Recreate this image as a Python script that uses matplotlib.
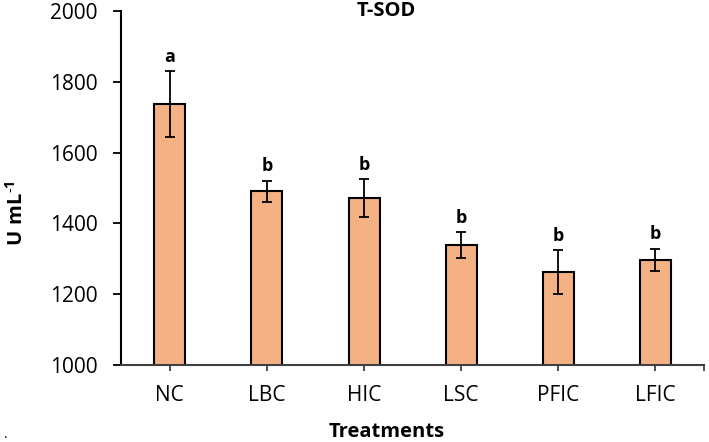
import matplotlib
matplotlib.use("Agg")
import matplotlib.pyplot as plt

plt.rcParams['font.family'] = ['Open Sans', 'DejaVu Sans']
plt.rcParams['mathtext.fontset'] = 'custom'
plt.rcParams['mathtext.rm'] = 'Open Sans'
plt.rcParams['mathtext.bf'] = 'Open Sans:bold'

treatments = ['NC', 'LBC', 'HIC', 'LSC', 'PFIC', 'LFIC']
tsod = [1737, 1491, 1471, 1339, 1262, 1297]
tsod_err = [93, 29, 54, 36, 62, 31]
letters = ['a', 'b', 'b', 'b', 'b', 'b']

fig = plt.figure(figsize=(7.09, 4.42), dpi=100)
ax = fig.add_axes([0.171, 0.174, 0.822, 0.801])

x = list(range(len(treatments)))
ax.bar(x, tsod, width=0.32, color='#F4B183', edgecolor='black', linewidth=1.5,
       zorder=2)
ax.errorbar(x, tsod, yerr=tsod_err, fmt='none', ecolor='black', elinewidth=1.3,
            capsize=3.5, capthick=1.3, zorder=3)

for xi, v, e, lab in zip(x, tsod, tsod_err, letters):
    ax.annotate(lab, (xi, v + e), xytext=(0, 4), textcoords='offset points',
                ha='center', va='bottom', fontsize=13, fontweight='bold')

ax.set_xlim(-0.5, 5.5)
ax.set_ylim(1000, 2000)
ax.set_yticks([1000, 1200, 1400, 1600, 1800, 2000])
ax.set_xticks(x + [5.5])
ax.set_xticklabels(treatments + [''])

ax.spines['top'].set_visible(False)
ax.spines['right'].set_visible(False)
ax.spines['left'].set_linewidth(1.5)
ax.spines['bottom'].set_linewidth(1.5)
ax.spines['bottom'].set_color('#404040')

ax.tick_params(axis='y', direction='out', length=6, width=1.3, pad=11, labelsize=15)
ax.tick_params(axis='x', direction='out', length=4, width=1.3, pad=10, labelsize=15,
               color='#404040')

ax.set_xlabel('Treatments', fontsize=14.5, fontweight='bold')
ax.xaxis.set_label_coords(0.456, -0.161)
ax.set_ylabel(r'$\mathbf{U\ mL^{\text{-}1}}$', fontsize=14.5)
ax.yaxis.set_label_coords(-0.16, 0.43)

ax.text(0.454, 1.0, 'T-SOD', transform=ax.transAxes, ha='center', va='center',
        fontsize=14.5, fontweight='bold')

fig.text(0.005, 0.01, '.', fontsize=10)

fig.savefig('out.png', dpi=100)
